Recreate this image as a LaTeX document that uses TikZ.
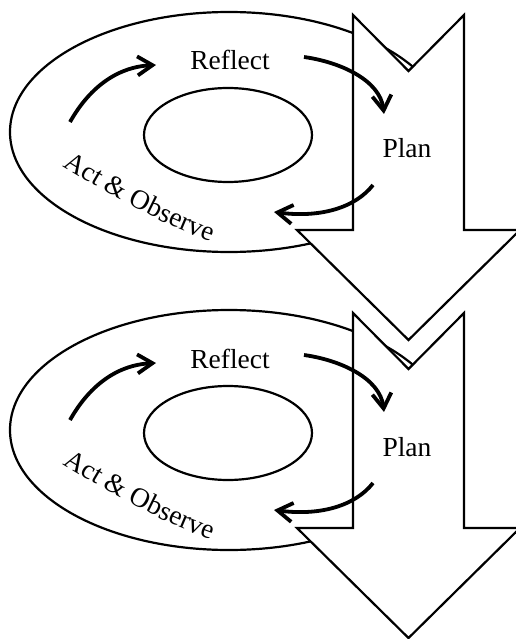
\documentclass[tikz,border=0pt]{standalone}
\usepackage{fontspec}
\setmainfont{Liberation Serif}
\usetikzlibrary{arrows.meta,decorations.text}

\begin{document}
\begin{tikzpicture}[x=1pt,y=-1pt,>={Straight Barb[length=15pt,width=19pt]},
	rand/.style={line width=2.2pt,fill=white},
	kreis/.style={->,line width=3.8pt},
	schrift/.style={font=\gross,anchor=base,inner sep=0pt}]

\def\dy{298}
\def\gross{\fontsize{27.5}{33}\selectfont}

\useasboundingbox (0,0) rectangle (515,639);

\foreach \k in {0,1}{
	\begin{scope}[shift={(0,\k*\dy)}]
	\draw[rand] (229,132) ellipse[x radius=219,y radius=120];
	\draw[rand] (228,135) ellipse[x radius=84,y radius=47];
	% Pfeil nach unten
	\draw[rand] (353,15)--(408.5,71)--(464,15)--(464,230)--(520,230)
		--(408.5,340)--(297,230)--(353,230)--cycle;

	\node[schrift] (reflect\k) at (230,70) {Reflect};
	\node[schrift] (plan\k) at (407,158) {Plan};

	\coordinate (a\k) at (70,122);
	\coordinate (b\k) at (156,65);
	\coordinate (c\k) at (304,57);
	\coordinate (d\k) at (384,114);
	\coordinate (e\k) at (373,185);
	\coordinate (f\k) at (274,212);

	\draw[kreis] (a\k) .. controls (88,90) and (115,67) .. (b\k);
	\draw[kreis] (c\k) .. controls (340,62) and (380,80) .. (d\k);
	\draw[kreis] (e\k) .. controls (355,208) and (320,218) .. (f\k);

	\path[decorate,decoration={text along path,text align=left,
		text={|\gross|Act {\&} Observe}}]
		(63,166) .. controls (112,196) and (165,227) .. (222,245);
	\end{scope}
}

\end{tikzpicture}
\end{document}
